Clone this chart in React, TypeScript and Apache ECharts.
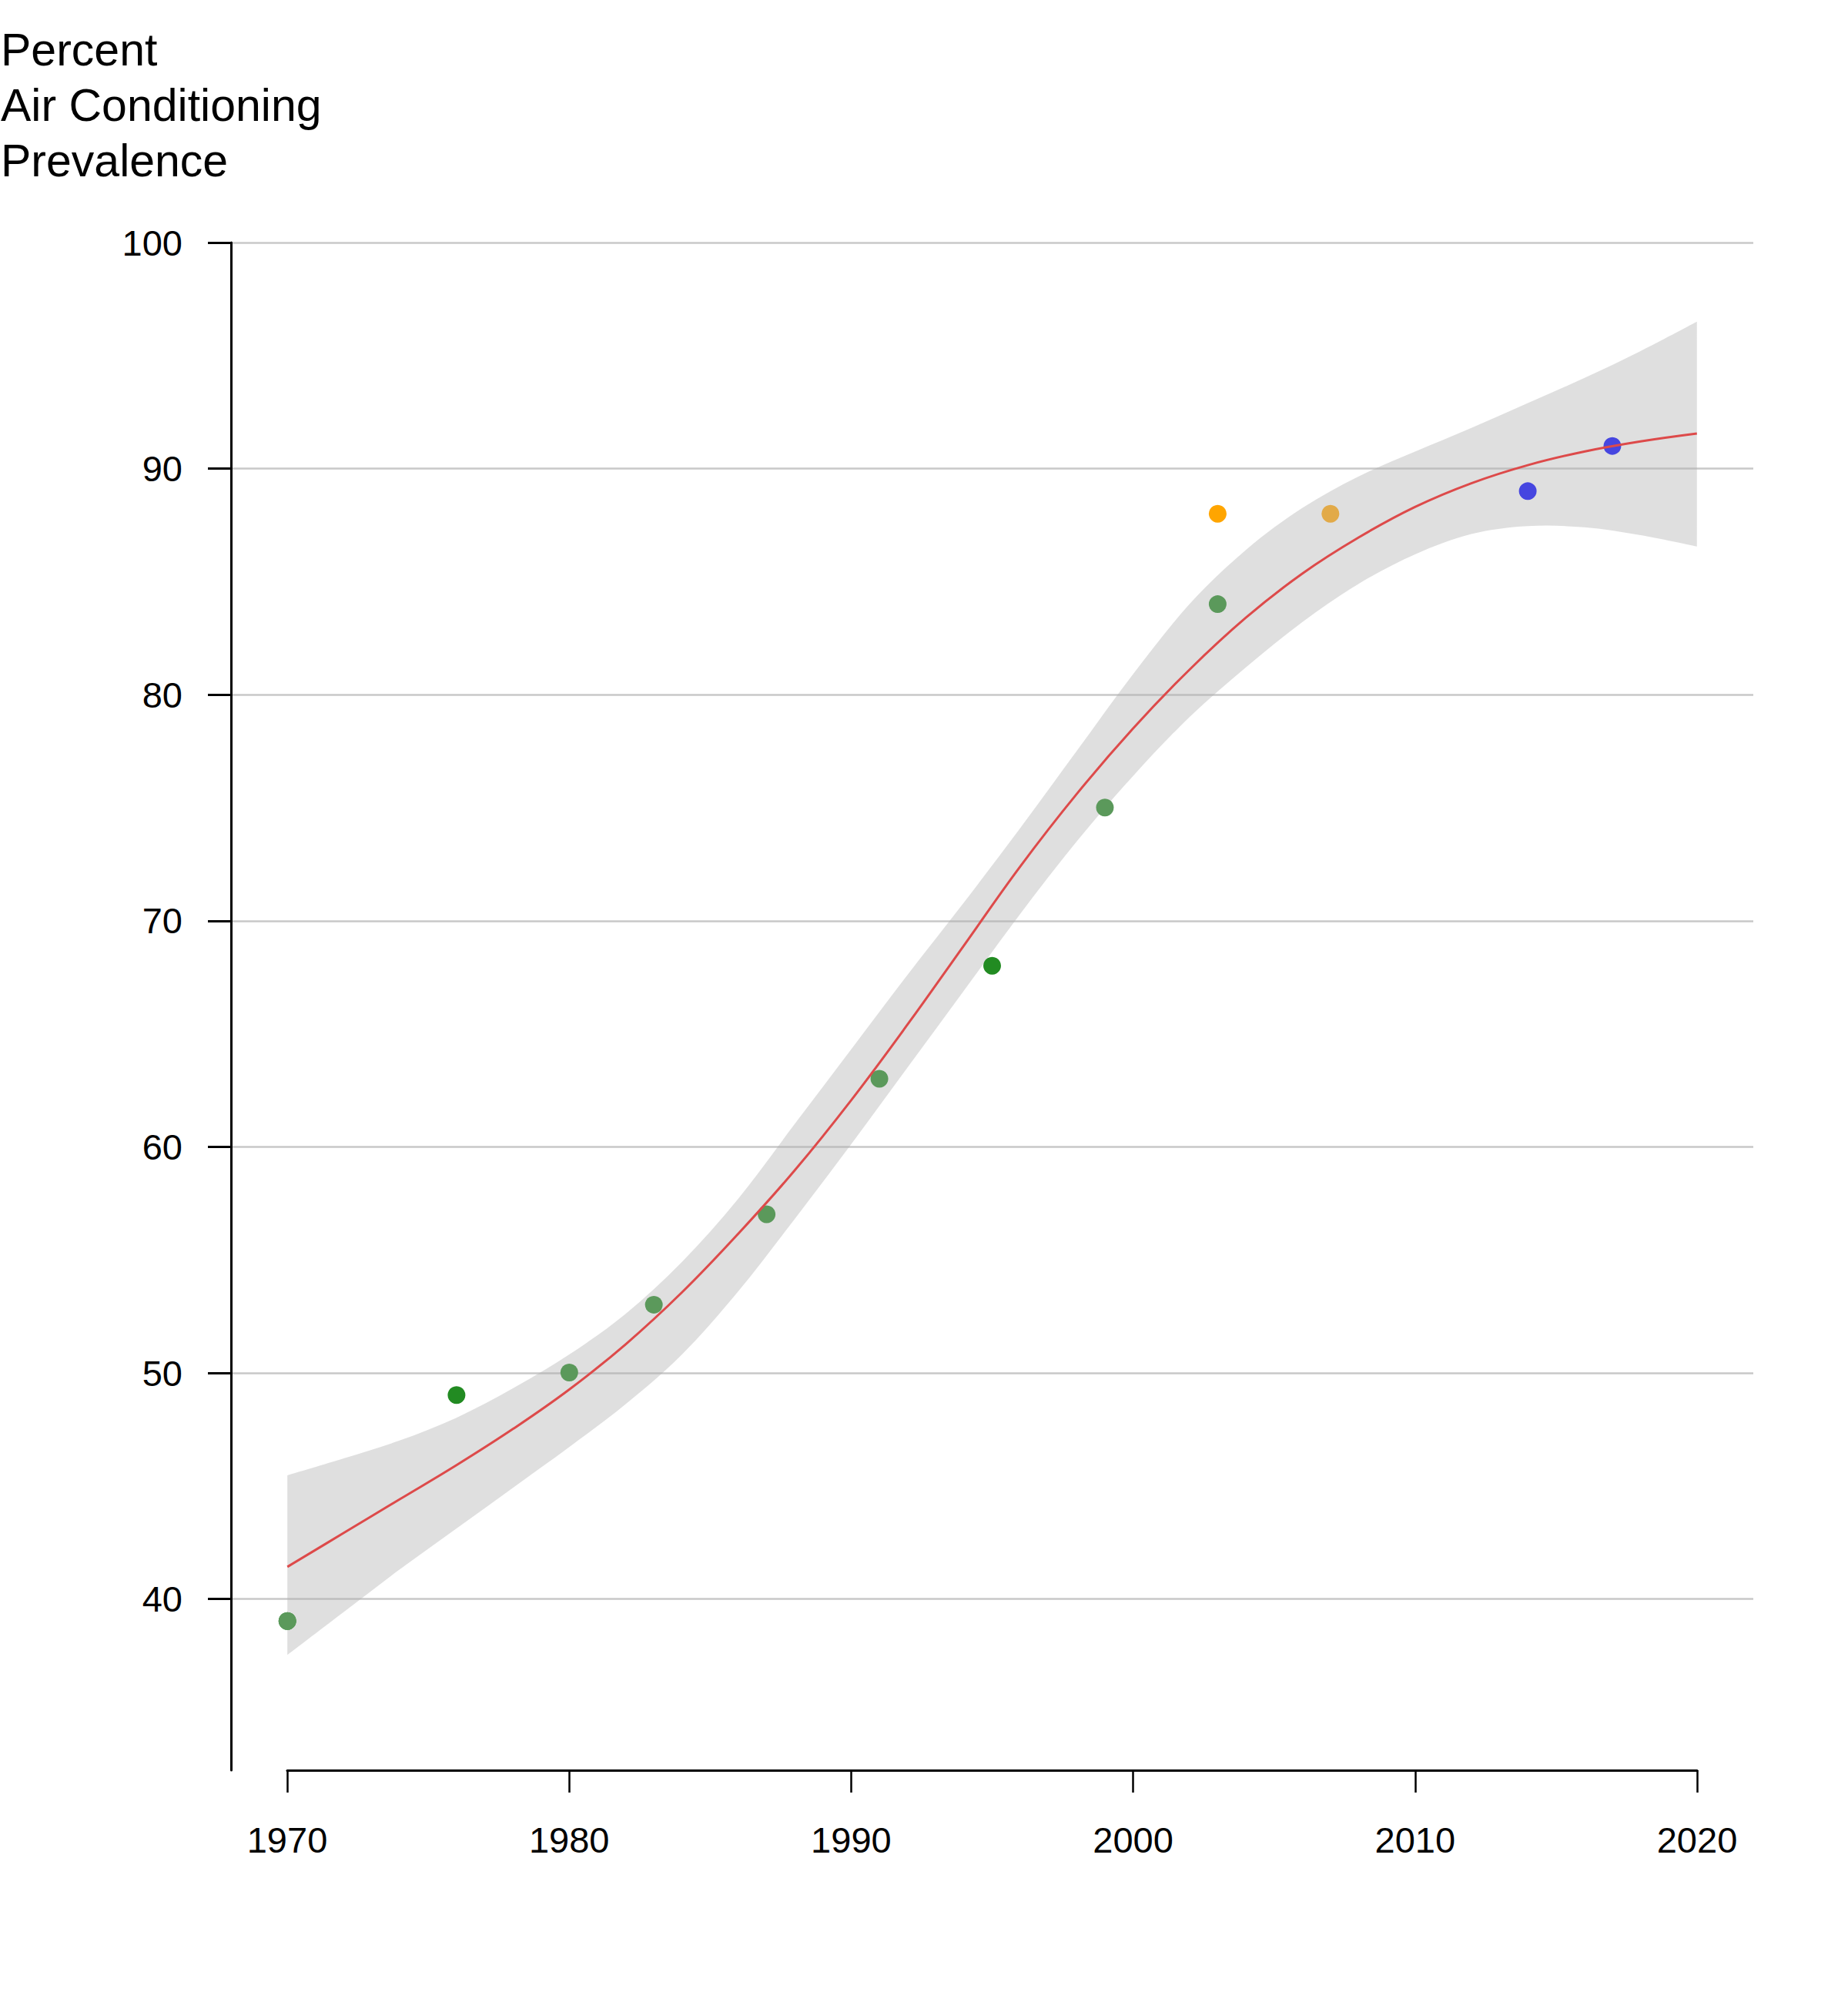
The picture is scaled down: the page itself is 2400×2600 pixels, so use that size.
import React, { useEffect, useRef } from "react";
import * as echarts from "echarts";

// Survey points
const pointYears = [1970, 1970, 1976, 1980, 1983, 1987, 1991, 1995, 1999, 2003, 2003, 2007, 2014, 2017];
const pointValues = [39, 39, 49, 50, 53, 57, 63, 68, 75, 84, 88, 88, 89, 91];
const pointColors = [
  "#228B22", "#5B995B", "#228B22", "#5B995B", "#5B995B", "#5B995B", "#5B995B",
  "#228B22", "#5B995B", "#5B995B", "#FFA500", "#E2AA48", "#4646E0", "#4646E0",
];

// Smoothed fit and its confidence band
const fitYears = [1970, 1972, 1974, 1976, 1978, 1980, 1982, 1984, 1986, 1988, 1990, 1992, 1994, 1996, 1998, 2000, 2002, 2004, 2006, 2008, 2010, 2012, 2014, 2016, 2018, 2020];
const fitValues = [41.4, 42.9, 44.4, 45.9, 47.5, 49.25, 51.25, 53.55, 56.15, 58.95, 62.05, 65.4, 68.9, 72.4, 75.6, 78.5, 81.1, 83.4, 85.35, 86.95, 88.3, 89.35, 90.15, 90.75, 91.2, 91.55];
const bandUpper = [45.45, 46.2, 47.0, 48.0, 49.3, 50.8, 52.6, 54.9, 57.7, 61.0, 64.3, 67.6, 70.8, 74.1, 77.5, 80.9, 84.0, 86.4, 88.25, 89.65, 90.75, 91.8, 92.9, 94.0, 95.2, 96.5];
const bandLower = [37.5, 39.4, 41.3, 43.1, 44.9, 46.7, 48.6, 50.8, 53.6, 56.8, 60.1, 63.5, 66.9, 70.3, 73.5, 76.4, 79.0, 81.2, 83.2, 84.9, 86.2, 87.1, 87.45, 87.4, 87.05, 86.55];

// Axis ticks
const xTicks = [1970, 1980, 1990, 2000, 2010, 2020];
const yTicks = [40, 50, 60, 70, 80, 90, 100];

const FONT = "'Liberation Sans', Arial, sans-serif";

// Catmull-Rom style cubic segments through already-projected pixel points
function curveThrough(pts: number[][], start: boolean): string {
  let d = start ? `M${pts[0][0]},${pts[0][1]}` : `L${pts[0][0]},${pts[0][1]}`;
  for (let i = 0; i < pts.length - 1; i++) {
    const p0 = pts[i - 1] || pts[i];
    const p1 = pts[i];
    const p2 = pts[i + 1];
    const p3 = pts[i + 2] || pts[i + 1];
    const c1x = p1[0] + (p2[0] - p0[0]) / 6;
    const c1y = p1[1] + (p2[1] - p0[1]) / 6;
    const c2x = p2[0] - (p3[0] - p1[0]) / 6;
    const c2y = p2[1] - (p3[1] - p1[1]) / 6;
    d += ` C${c1x},${c1y} ${c2x},${c2y} ${p2[0]},${p2[1]}`;
  }
  return d;
}

export default function App() {
  const ref = useRef<HTMLDivElement>(null);
  useEffect(() => {
    if (!ref.current) return;
    const chart = echarts.init(ref.current, null, { renderer: "svg" });
    const option = {
      animation: false,
      backgroundColor: "#ffffff",
      title: {
        text: "Percent\nAir Conditioning\nPrevalence",
        left: 1,
        top: 29,
        padding: 0,
        textStyle: { fontFamily: FONT, fontSize: 59, lineHeight: 72, fontWeight: "normal", color: "#000" },
      },
      grid: [
        { left: 300, right: 123, top: 315, bottom: 301 },
        { left: 300, right: 123, top: 315, bottom: 523.4 },
        { left: 373, right: 196, top: 2200, bottom: 301 },
      ],
      xAxis: [
        { type: "value", gridIndex: 0, min: 1968, max: 2022, show: false },
        { type: "value", gridIndex: 1, min: 1968, max: 2022, show: false },
        {
          type: "value", gridIndex: 2, min: xTicks[0], max: xTicks[xTicks.length - 1], interval: 10,
          axisLine: { show: true, lineStyle: { color: "#000", width: 3 } },
          axisTick: { show: true, inside: false, length: 29, lineStyle: { color: "#000", width: 2.5 } },
          axisLabel: {
            show: true, fontFamily: FONT, fontSize: 47, color: "#000", margin: 67,
            formatter: (v: number) => String(v),
          },
          splitLine: { show: false },
        },
      ],
      yAxis: [
        {
          type: "value", gridIndex: 0, min: 32.4, max: 100,
          axisLine: { show: true, lineStyle: { color: "#000", width: 3 } },
          axisTick: { show: false }, axisLabel: { show: false }, splitLine: { show: false },
        },
        {
          type: "value", gridIndex: 1, min: yTicks[0], max: yTicks[yTicks.length - 1], interval: 10,
          axisLine: { show: false },
          axisTick: { show: true, inside: false, length: 30, lineStyle: { color: "#000", width: 3 } },
          axisLabel: { show: true, fontFamily: FONT, fontSize: 47, color: "#000", margin: 63 },
          splitLine: { show: true, lineStyle: { color: "#C8C8C8", width: 2.5 } },
        },
        { type: "value", gridIndex: 2, show: false },
      ],
      series: [
        {
          type: "custom", xAxisIndex: 0, yAxisIndex: 0, silent: true, z: 2,
          data: [[fitYears[0], bandLower[0]]],
          renderItem: (_params: any, api: any) => {
            const up = fitYears.map((y, i) => api.coord([y, bandUpper[i]]));
            const lo = fitYears.map((y, i) => api.coord([y, bandLower[i]])).reverse();
            const d = curveThrough(up, true) + " " + curveThrough(lo, false) + " Z";
            return {
              type: "path",
              shape: { pathData: d },
              style: { fill: "rgba(175,175,175,0.4)", stroke: "none" },
              silent: true,
            };
          },
        },
        {
          type: "scatter", xAxisIndex: 0, yAxisIndex: 0, symbol: "circle", symbolSize: 23, z: 3,
          itemStyle: { opacity: 1 },
          data: pointYears.map((y, i) => ({ value: [y, pointValues[i]], itemStyle: { color: pointColors[i], opacity: 1 } })),
        },
        {
          type: "line", xAxisIndex: 0, yAxisIndex: 0, smooth: 0.4, symbol: "none", z: 4,
          lineStyle: { color: "#DD4A4A", width: 3 },
          data: fitYears.map((y, i) => [y, fitValues[i]]),
        },
      ],
    };
    chart.setOption(option as any);
    return () => chart.dispose();
  }, []);
  return <div ref={ref} style={{ position: "absolute", left: 0, top: 0, width: 2400, height: 2600 }} />;
}
